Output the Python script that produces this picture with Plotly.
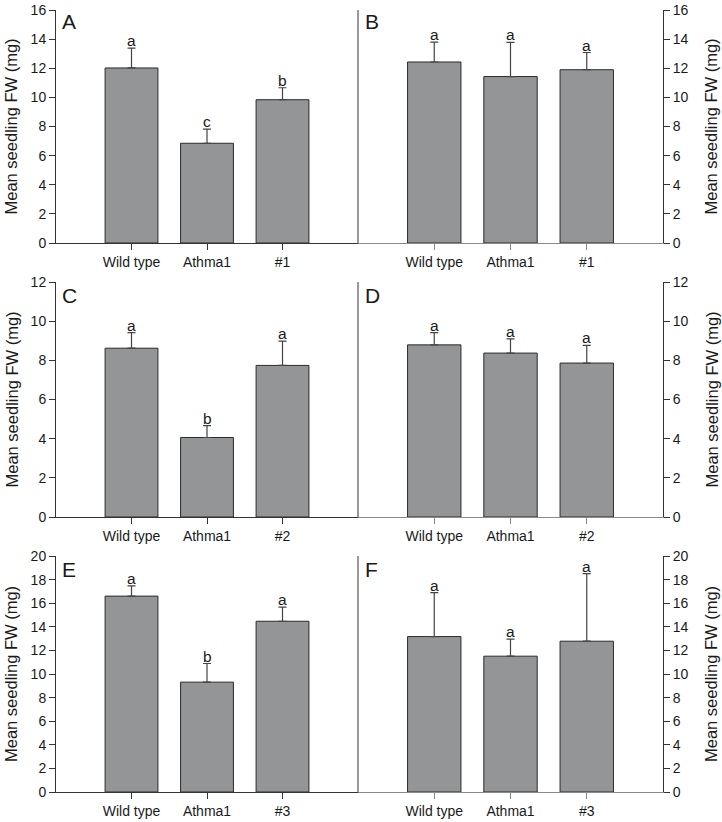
import plotly.graph_objects as go

W, H = 722, 822

categories_1 = ["Wild type", "Athma1", "#1"]
categories_2 = ["Wild type", "Athma1", "#2"]
categories_3 = ["Wild type", "Athma1", "#3"]

# means and upper error (absolute top of error bar)
A_mean = [12.02, 6.85, 9.84]
A_top = [13.38, 7.82, 10.66]
B_mean = [12.43, 11.43, 11.90]
B_top = [13.79, 13.77, 13.08]
C_mean = [8.62, 4.06, 7.74]
C_top = [9.41, 4.67, 8.98]
D_mean = [8.79, 8.37, 7.86]
D_top = [9.41, 9.10, 8.76]
E_mean = [16.60, 9.31, 14.47]
E_top = [17.46, 10.89, 15.66]
F_mean = [13.17, 11.51, 12.78]
F_top = [16.90, 12.95, 18.50]

A_letters = ["a", "c", "b"]
B_letters = ["a", "a", "a"]
C_letters = ["a", "b", "a"]
D_letters = ["a", "a", "a"]
E_letters = ["a", "b", "a"]
F_letters = ["a", "a", "a"]

row_ymax = [16, 12, 20]
row_dtick = [2, 2, 2]

panels = [
    ("A", categories_1, A_mean, A_top, A_letters, 0, 0),
    ("B", categories_1, B_mean, B_top, B_letters, 0, 1),
    ("C", categories_2, C_mean, C_top, C_letters, 1, 0),
    ("D", categories_2, D_mean, D_top, D_letters, 1, 1),
    ("E", categories_3, E_mean, E_top, E_letters, 2, 0),
    ("F", categories_3, F_mean, F_top, F_letters, 2, 1),
]

# layout geometry (pixels)
col_px = [(56, 358), (358, 663)]
row_px = [(10, 243), (282, 517), (556, 792)]

FONT = "Arial, Liberation Sans, sans-serif"
TXT = "#1a1a1a"
AX = "#333333"

fig = go.Figure()
layout = dict(
    width=W, height=H,
    margin=dict(l=0, r=0, t=0, b=0),
    paper_bgcolor="white", plot_bgcolor="white",
    showlegend=False,
    font=dict(family=FONT, size=14, color=TXT),
    annotations=[], shapes=[],
)

for i, (lab, cats, mean, top, letters, r, c) in enumerate(panels):
    n = i + 1
    xa = "x" if n == 1 else f"x{n}"
    ya = "y" if n == 1 else f"y{n}"
    xs = list(range(len(cats)))
    err = [t - m for t, m in zip(top, mean)]
    fig.add_trace(go.Bar(
        x=xs, y=mean, width=0.7,
        marker=dict(color="#949597", line=dict(color="#2b2b2b", width=1)),
        error_y=dict(type="data", symmetric=False, array=err,
                     arrayminus=[0] * len(err), color="#444444",
                     thickness=1.2, width=4),
        xaxis=xa, yaxis=ya, hoverinfo="skip",
    ))
    x0, x1 = col_px[c]
    yt, yb = row_px[r]
    xd = [x0 / W, x1 / W]
    yd = [1 - yb / H, 1 - yt / H]
    xkey = "xaxis" if n == 1 else f"xaxis{n}"
    ykey = "yaxis" if n == 1 else f"yaxis{n}"
    layout[xkey] = dict(
        domain=xd, anchor=ya, range=[-1, 3], automargin=False,
        tickvals=xs, ticktext=cats,
        showline=True, linecolor=AX if c == 0 else "#8a8a8a", linewidth=1,
        ticks="outside", ticklen=6, tickcolor=AX if c == 0 else "#8a8a8a",
        showgrid=False, zeroline=False, fixedrange=True,
        tickfont=dict(size=14, color=TXT, family=FONT),
    )
    layout[ykey] = dict(
        domain=yd, anchor=xa, range=[0, row_ymax[r]], automargin=False,
        dtick=row_dtick[r], tick0=0,
        side="left" if c == 0 else "right",
        showline=True, linecolor=AX, linewidth=1,
        ticks="outside", ticklen=6, tickcolor=AX,
        showgrid=False, zeroline=False, fixedrange=True,
        tickfont=dict(size=14, color=TXT, family=FONT),
    )
    # separator line on right edge of left panels
    if c == 0:
        layout["shapes"].append(dict(
            type="line", xref=f"{xa} domain", yref=f"{ya} domain",
            x0=1, x1=1, y0=0, y1=1, line=dict(color=AX, width=1)))
    # significance letters
    for xi, t, L in zip(xs, top, letters):
        layout["annotations"].append(dict(
            x=xi, y=t, xref=xa, yref=ya, text=L, showarrow=False,
            yanchor="bottom", yshift=-3, font=dict(size=15.5, color=TXT, family=FONT)))
    # panel label
    layout["annotations"].append(dict(
        x=0.012 if c == 0 else 0.018, y=1.0, xref=f"{xa} domain", yref=f"{ya} domain",
        text=lab, showarrow=False, xanchor="left", yanchor="top", yshift=2 if r == 0 else 0,
        font=dict(size=21, color=TXT, family=FONT)))
    # y axis title
    ymid = 1 - (yt + yb) / 2 / H
    layout["annotations"].append(dict(
        x=(11 if c == 0 else 711) / W, y=ymid, xref="paper", yref="paper",
        text="Mean seedling FW (mg)", showarrow=False, textangle=-90,
        xanchor="center", yanchor="middle",
        font=dict(size=16.5, color=TXT, family=FONT)))

fig.update_layout(**layout)
fig.write_html("out.html", config={"displayModeBar": False},
               post_script="document.body.style.margin='0';")
